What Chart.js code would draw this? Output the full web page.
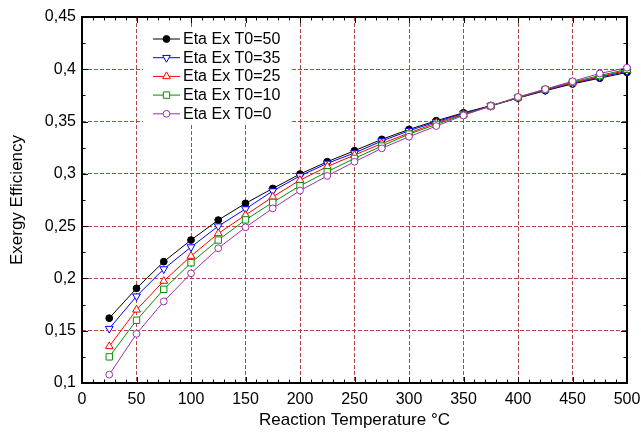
<!DOCTYPE html>
<html>
<head>
<meta charset="utf-8">
<title>Exergy Efficiency vs Reaction Temperature</title>
<script src="https://cdn.jsdelivr.net/npm/chart.js@4/dist/chart.umd.min.js"></script>
<style>
  html, body { margin: 0; padding: 0; background: #ffffff; }
  #wrap { width: 641px; height: 432px; }
</style>
</head>
<body>
<div id="wrap"><canvas id="c" width="641" height="432"></canvas></div>
<script>
// Reaction temperature (°C)
const temperatures = [25, 50, 75, 100, 125, 150, 175, 200, 225, 250,
                      275, 300, 325, 350, 375, 400, 425, 450, 475, 500];

// Exergy efficiency for each dead-state temperature T0
const etaT0_50 = [0.162, 0.1905, 0.216, 0.2367, 0.2558, 0.2718, 0.286, 0.2998, 0.3116, 0.3221,
                  0.333, 0.3425, 0.3508, 0.3584, 0.3652, 0.3725, 0.3795, 0.386, 0.3915, 0.397];
const etaT0_35 = [0.152, 0.183, 0.209, 0.230, 0.250, 0.2664, 0.2836, 0.298, 0.310, 0.320,
                  0.3314, 0.3412, 0.3498, 0.3578, 0.365, 0.3727, 0.380, 0.3865, 0.3925, 0.398];
const etaT0_25 = [0.135, 0.170, 0.1975, 0.2214, 0.243, 0.2606, 0.278, 0.294, 0.307, 0.318,
                  0.329, 0.339, 0.3488, 0.357, 0.3648, 0.3728, 0.3803, 0.387, 0.393, 0.399];
const etaT0_10 = [0.125, 0.160, 0.1896, 0.215, 0.2367, 0.256, 0.2727, 0.2886, 0.302, 0.3148,
                  0.3266, 0.338, 0.3473, 0.3565, 0.3648, 0.373, 0.3807, 0.3878, 0.394, 0.400];
const etaT0_0  = [0.108, 0.147, 0.178, 0.2049, 0.2288, 0.2489, 0.267, 0.284, 0.298, 0.3116,
                  0.3244, 0.3355, 0.3457, 0.3559, 0.365, 0.3735, 0.381, 0.3885, 0.396, 0.4015];

const seriesLabels = ['Eta Ex T0=50', 'Eta Ex T0=35', 'Eta Ex T0=25', 'Eta Ex T0=10', 'Eta Ex T0=0'];

// Axis tick values and titles
const xTickValues = [0, 50, 100, 150, 200, 250, 300, 350, 400, 450, 500];
const yTickValues = [0.1, 0.15, 0.2, 0.25, 0.3, 0.35, 0.4, 0.45];
const xMinorStep = 10;
const yMinorStep = 0.025;
const xTitle = 'Reaction Temperature °C';
const yTitle = 'Exergy Efficiency';

const FONT = "'Liberation Sans', Arial, sans-serif";
const GRID_COLOR = 'rgb(180, 70, 70)';

function toPoints(ys) {
  return temperatures.map((t, i) => ({ x: t, y: ys[i] }));
}

function series(label, ys, color, style, opts) {
  return Object.assign({
    label: label,
    data: toPoints(ys),
    borderColor: color,
    borderWidth: 1,
    pointStyle: style,
    pointBorderColor: color,
    pointBackgroundColor: '#ffffff',
    pointBorderWidth: 1,
    pointRadius: 4.5,
    pointRotation: 0,
    tension: 0,
    clip: false
  }, opts || {});
}

const datasets = [
  series(seriesLabels[0], etaT0_50, '#000000', 'circle',   { pointBackgroundColor: '#000000', pointRadius: 3.4, order: 4 }),
  series(seriesLabels[1], etaT0_35, '#0000ff', 'triangle', { pointRotation: 180, order: 3 }),
  series(seriesLabels[2], etaT0_25, '#ff0000', 'triangle', { order: 2 }),
  series(seriesLabels[3], etaT0_10, '#009000', 'rect',     { order: 1 }),
  series(seriesLabels[4], etaT0_0,  '#9933aa', 'circle',   { pointRadius: 3.4, order: 0 })
];

function formatComma(v) {
  return String(Math.round(v * 1000) / 1000).replace('.', ',');
}

// Black frame plus inward major/minor ticks on all four sides
const framePlugin = {
  id: 'frame',
  beforeDatasetsDraw(chart) {
    const { ctx, chartArea: a, scales } = chart;
    const xs = scales.x, ys = scales.y;
    ctx.save();
    ctx.strokeStyle = '#000000';
    ctx.lineWidth = 1;
    ctx.beginPath();
    const nx = Math.round((xs.max - xs.min) / xMinorStep);
    for (let i = 0; i <= nx; i++) {
      const v = xs.min + i * xMinorStep;
      const px = Math.round(xs.getPixelForValue(v)) + 0.5;
      const len = (i % 5 === 0) ? 6 : 3.5;
      ctx.moveTo(px, a.bottom); ctx.lineTo(px, a.bottom - len);
      ctx.moveTo(px, a.top);    ctx.lineTo(px, a.top + len);
    }
    const ny = Math.round((ys.max - ys.min) / yMinorStep);
    for (let i = 0; i <= ny; i++) {
      const v = ys.min + i * yMinorStep;
      const py = Math.round(ys.getPixelForValue(v)) + 0.5;
      const len = (i % 2 === 0) ? 6 : 3.5;
      ctx.moveTo(a.left, py);  ctx.lineTo(a.left + len, py);
      ctx.moveTo(a.right, py); ctx.lineTo(a.right - len, py);
    }
    ctx.stroke();
    ctx.lineWidth = 2;
    ctx.strokeRect(a.left, a.top, a.right - a.left, a.bottom - a.top);
    ctx.restore();
  }
};

// Axis titles, centred on the plot area
const axisTitles = {
  id: 'axisTitles',
  afterDraw(chart) {
    const { ctx, chartArea: a } = chart;
    ctx.save();
    ctx.fillStyle = '#000000';
    ctx.textAlign = 'center';
    ctx.textBaseline = 'middle';
    ctx.font = '17px ' + FONT;
    ctx.fillText(xTitle, (a.left + a.right) / 2, 420);
    ctx.translate(17, (a.top + a.bottom) / 2);
    ctx.rotate(-Math.PI / 2);
    ctx.fillText(yTitle, 0, 0);
    ctx.restore();
  }
};

// Legend box drawn inside the plot area
const insideLegend = {
  id: 'insideLegend',
  afterDatasetsDraw(chart) {
    const { ctx } = chart;
    const left = 143, top = 28, w = 148, h = 95;
    const lineX0 = 153, lineX1 = 180, markX = 166.5, textX = 183;
    const row0 = 38.5, rowStep = 18.7;
    ctx.save();
    ctx.fillStyle = '#ffffff';
    ctx.fillRect(left, top, w, h);
    ctx.font = '16px ' + FONT;
    ctx.textBaseline = 'middle';
    ctx.textAlign = 'left';
    chart.data.datasets.forEach((ds, i) => {
      const y = row0 + i * rowStep;
      ctx.strokeStyle = ds.borderColor;
      ctx.lineWidth = 1;
      ctx.setLineDash([]);
      ctx.beginPath();
      ctx.moveTo(lineX0, y + 0.5);
      ctx.lineTo(lineX1, y + 0.5);
      ctx.stroke();
      const pOpts = {
        pointStyle: ds.pointStyle,
        rotation: ds.pointRotation || 0,
        radius: ds.pointRadius,
        borderWidth: ds.pointBorderWidth
      };
      ctx.fillStyle = ds.pointBackgroundColor;
      ctx.strokeStyle = ds.pointBorderColor;
      Chart.helpers.drawPoint(ctx, pOpts, markX, y + 0.5);
      ctx.fillStyle = '#000000';
      ctx.fillText(ds.label, textX, y + 1);
    });
    ctx.restore();
  }
};

new Chart(document.getElementById('c'), {
  type: 'line',
  data: { datasets: datasets },
  options: {
    responsive: false,
    animation: false,
    devicePixelRatio: 1,
    layout: { padding: { left: 0, right: 14, top: 17, bottom: 0 } },
    plugins: {
      legend: { display: false },
      tooltip: { enabled: false }
    },
    scales: {
      x: {
        type: 'linear',
        min: 0,
        max: 500,
        afterBuildTicks: s => { s.ticks = xTickValues.map(v => ({ value: v })); },
        afterFit: s => { s.height = 49; s.paddingLeft = 0; s.paddingRight = 0; },
        grid: { color: GRID_COLOR, lineWidth: 1, drawTicks: false },
        border: { display: false, dash: [4, 2] },
        ticks: {
          color: '#000000',
          font: { family: FONT, size: 16 },
          padding: 7,
          maxRotation: 0,
          callback: v => String(v)
        },
        title: { display: false }
      },
      y: {
        type: 'linear',
        min: 0.1,
        max: 0.45,
        afterBuildTicks: s => { s.ticks = yTickValues.map(v => ({ value: v })); },
        afterFit: s => { s.width = 82; s.paddingTop = 0; s.paddingBottom = 0; },
        grid: { color: GRID_COLOR, lineWidth: 1, drawTicks: false },
        border: { display: false, dash: [4, 2] },
        ticks: {
          color: '#000000',
          font: { family: FONT, size: 16 },
          padding: 6,
          callback: v => formatComma(v)
        },
        title: { display: false }
      }
    }
  },
  plugins: [framePlugin, insideLegend, axisTitles]
});
</script>
</body>
</html>
